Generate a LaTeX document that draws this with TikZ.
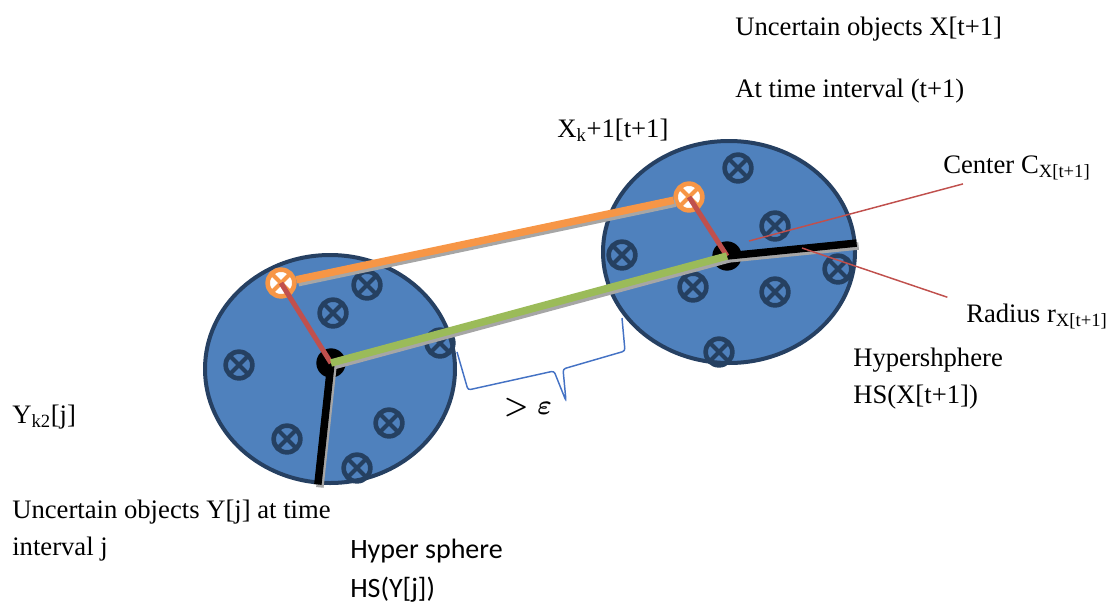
\documentclass[tikz,border=0pt]{standalone}
\usepackage{fontspec}
\setmainfont{Liberation Serif}
\newfontfamily\calibri{Carlito}
\usetikzlibrary{shapes.geometric}

\definecolor{hsfill}{RGB}{79,129,189}
\definecolor{hsline}{RGB}{38,64,98}
\definecolor{objline}{RGB}{37,64,97}
\definecolor{linkorange}{RGB}{247,150,70}
\definecolor{linkred}{RGB}{192,80,77}
\definecolor{linkgreen}{RGB}{155,187,89}
\definecolor{bracecol}{RGB}{68,114,196}
\definecolor{shadowgray}{RGB}{166,166,166}

\tikzset{
  hsphere/.style={ellipse, draw=hsline, fill=hsfill, line width=3pt, inner sep=0pt},
  obj/.style={circle, draw=objline, line width=3.5pt, minimum size=20pt, inner sep=0pt,
    path picture={\draw[objline, line width=3pt]
      (path picture bounding box.north west) -- (path picture bounding box.south east)
      (path picture bounding box.north east) -- (path picture bounding box.south west);}},
  selobj/.style={circle, draw=linkorange, fill=white, line width=3.5pt, minimum size=20pt, inner sep=0pt,
    path picture={\draw[linkorange, line width=3pt]
      (path picture bounding box.north west) -- (path picture bounding box.south east)
      (path picture bounding box.north east) -- (path picture bounding box.south west);}},
  hub/.style={circle, fill=black, minimum size=22pt, inner sep=0pt},
  link/.style={line width=5.6pt},
  shadowline/.style={shadowgray, line width=5.6pt},
  leader/.style={linkred, line width=1.1pt},
  lbl/.style={anchor=base west, inner sep=0pt, font=\fontsize{20}{27.75}\selectfont},
}

\begin{document}
\begin{tikzpicture}[x=0.75pt,y=-0.75pt]
    \useasboundingbox (0,0) rectangle (1110,603);

    % Hyperspheres
    \node[hsphere, minimum width=187.5pt, minimum height=171pt] (lhs) at (330,369) {};
    \node[hsphere, minimum width=189pt, minimum height=166.5pt] (rhs) at (729,252) {};

    % Uncertain objects
    \foreach \p [count=\i] in {(367,285),(333,313),(239,365),(440,343),(287,439),(389,423),(357,468)}
        \node[obj] (lo\i) at \p {};
    \foreach \p [count=\i] in {(738,168),(775,226),(622,255),(693,287),(775,292),(838,269),(719,352)}
        \node[obj] (ro\i) at \p {};
    \node[selobj] (lsel) at (281,283) {};
    \node[selobj] (rsel) at (689,197) {};

    % Centers
    \node[hub] (ldot) at (331,363) {};
    \node[hub] (rdot) at (727,256) {};

    % Shadows
    \begin{scope}[transform canvas={shift={(1.5pt,-2.2pt)}}]
        \draw[shadowline] (ldot.center) -- (lhs.264);
        \draw[shadowline] (rdot.center) -- (rhs.4);
        \draw[shadowline] (lsel) -- (rsel);
        \draw[shadowline] (ldot.center) -- (rdot.center);
    \end{scope}

    % Radii
    \draw[link, black] (ldot.center) -- (lhs.264);
    \draw[link, black] (rdot.center) -- (rhs.4);

    % Links between the spheres
    \draw[link, linkorange] (lsel) -- (rsel);
    \draw[linkred, line width=3.75pt] (lsel.center) -- (ldot.center);
    \draw[linkred, line width=3.75pt] (rsel.center) -- (rdot.center);
    \draw[link, linkgreen] (ldot.center) -- (rdot.center);

    % Distance brace
    \draw[bracecol, line width=1.1pt, rounded corners=2pt]
        (457,352) -- (468,390) -- (554,371) -- (566,401) -- (563,369) -- (625,351) -- (622,318);
    \node[inner sep=0pt, font=\fontsize{21}{24}\selectfont\boldmath] (eps) at (528,408) {$>\varepsilon$};

    % Labels
    \node[lbl] (ux) at (735,36) {Uncertain objects X[t+1]};
    \node[lbl] (ut) at (735,97) {At time interval (t+1)};
    \node[lbl] (xsel) at (557,137) {X\textsubscript{k}+1[t+1]};
    \node[lbl] (ctr) at (943,173) {Center C\textsubscript{X[t+1]}};
    \node[lbl] (rad) at (966,322) {Radius r\textsubscript{X[t+1]}};
    \node[lbl, align=left] (hsx) at (853,403) {Hypershphere\\HS(X[t+1])};
    \node[lbl] (yk) at (12,423) {Y\textsubscript{k2}[j]};
    \node[lbl, align=left] (uy) at (12,555) {Uncertain objects Y[j] at time\\interval j};
    \node[lbl, align=left, font=\calibri\fontsize{21}{29.25}\selectfont] (hsy) at (350,597) {Hyper sphere\\HS(Y[j])};

    % Leaders
    \coordinate (ctrtip) at (749,241);
    \coordinate (radtip) at (802,248);
    \draw[leader] ([xshift=15pt,yshift=-3pt]ctr.south west) -- (ctrtip);
    \draw[leader] ([xshift=-14pt,yshift=4.5pt]rad.north west) -- (radtip);
\end{tikzpicture}
\end{document}
